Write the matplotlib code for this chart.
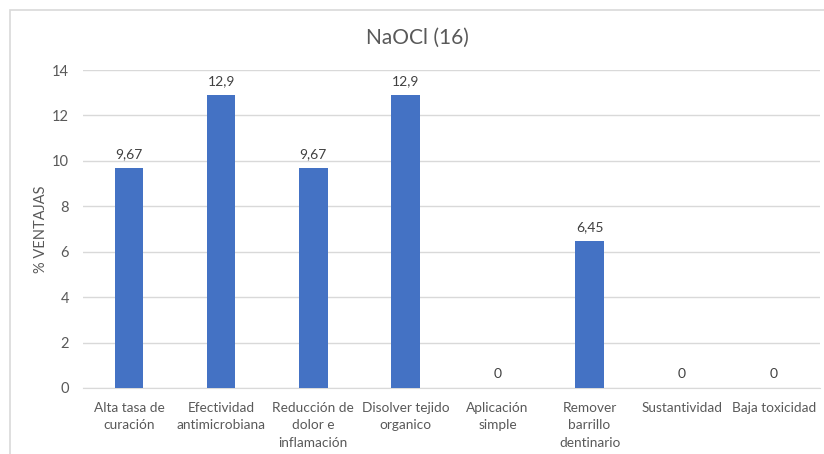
import numpy as np
import matplotlib.pyplot as plt
from matplotlib.patches import Rectangle

plt.rcParams['font.family'] = ['Lato', 'DejaVu Sans']

categorias = ['Alta tasa de\ncuración', 'Efectividad\nantimicrobiana',
              'Reducción de\ndolor e\ninflamación', 'Disolver tejido\norganico',
              'Aplicación\nsimple', 'Remover\nbarrillo\ndentinario',
              'Sustantividad', 'Baja toxicidad']
valores = [9.67, 12.9, 9.67, 12.9, 0, 6.45, 0, 0]
etiquetas = ['9,67', '12,9', '9,67', '12,9', '0', '6,45', '0', '0']

gris = '#595959'
azul = '#4472C4'

fig = plt.figure(figsize=(8.24, 4.54), dpi=100)
ax = fig.add_axes([0.1007, 0.1454, 0.8943, 0.7004])

# marco del grafico
fig.patches.append(Rectangle((10 / 824, -0.1), 1.0, (454 - 10) / 454 + 0.1,
                             transform=fig.transFigure, fill=False,
                             edgecolor='#D9D9D9', linewidth=1.2))

x = np.arange(len(categorias))
ax.bar(x, valores, width=0.31, color=azul, zorder=3)
for xi, v, t in zip(x, valores, etiquetas):
    ax.annotate(t, (xi, v), xytext=(0, 6), textcoords='offset points',
                ha='center', va='bottom', fontsize=10, color='#404040')

ax.set_xlim(-0.5, len(categorias) - 0.5)
ax.set_ylim(0, 14)
ax.set_yticks(range(0, 15, 2))
ax.set_xticks(x)
ax.set_xticklabels(categorias, fontsize=9.8, color=gris, linespacing=1.55)
ax.tick_params(axis='y', labelsize=10.5, labelcolor=gris, length=0, pad=10)
ax.tick_params(axis='x', length=0, pad=10)
ax.yaxis.grid(True, color='#D9D9D9', linewidth=1, zorder=0)
for s in ['top', 'right', 'left']:
    ax.spines[s].set_visible(False)
ax.spines['bottom'].set_color('#D9D9D9')
ax.spines['bottom'].set_zorder(1)
ax.set_ylabel('% VENTAJAS', fontsize=10.5, color=gris, labelpad=3)

fig.text(417 / 824, 1 - 38 / 454, 'NaOCl (16)', ha='center', va='center',
         fontsize=15, color=gris)

fig.savefig('out.png', dpi=100)
